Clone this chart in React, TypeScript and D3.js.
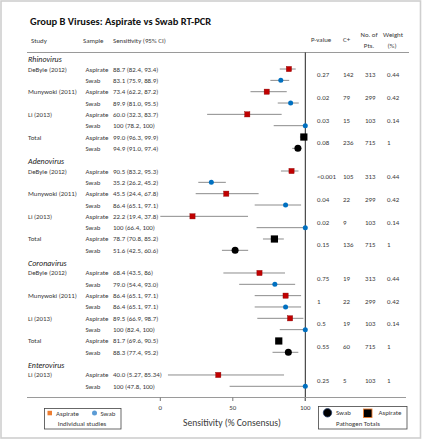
import React from "react";
import * as d3 from "d3";

const virusNames = ["Rhinovirus", "Adenovirus", "Coronavirus", "Enterovirus"];
const pairVirus = [0, 0, 0, 0, 1, 1, 1, 1, 2, 2, 2, 2, 3];
const pairStudy = [
  "DeByle (2012)", "Munywoki (2011)", "Li (2013)", "Total",
  "DeByle (2012)", "Munywoki (2011)", "Li (2013)", "Total",
  "DeByle (2012)", "Munywoki (2011)", "Li (2013)", "Total",
  "Li (2013)",
];
const pValue = ["0.27", "0.02", "0.03", "0.08", "<0.001", "0.04", "0.02", "0.15", "0.75", "1", "0.5", "0.55", "0.25"];
const cPositive = ["142", "79", "15", "236", "105", "22", "9", "136", "19", "22", "19", "60", "5"];
const numPts = ["313", "299", "103", "715", "313", "299", "103", "715", "313", "299", "103", "715", "103"];
const weight = ["0.44", "0.42", "0.14", "1", "0.44", "0.42", "0.14", "1", "0.44", "0.42", "0.14", "1", "1"];

const aspText = [
  "88.7 (82.4, 93.4)", "73.4 (62.2, 87.2)", "60.0 (32.3, 83.7)", "99.0 (96.3, 99.9)",
  "90.5 (83.2, 95.3)", "45.5 (24.4, 67.8)", "22.2 (19.4, 37.8)", "78.7 (70.8, 85.2)",
  "68.4 (43.5, 86)", "86.4 (65.1, 97.1)", "89.5 (66.9, 98.7)", "81.7 (69.6, 90.5)",
  "40.0 (5.27, 85.34)",
];
const swabText = [
  "83.1 (75.9, 88.9)", "89.9 (81.0, 95.5)", "100 (78.2, 100)", "94.9 (91.0, 97.4)",
  "35.2 (26.2, 45.2)", "86.4 (65.1, 97.1)", "100 (66.4, 100)", "51.6 (42.5, 60.6)",
  "79.0 (54.4, 93.0)", "86.4 (65.1, 97.1)", "100 (82.4, 100)", "88.3 (77.4, 95.2)",
  "100 (47.8, 100)",
];

// plotted values as drawn in the picture
const aspEst = [88.7, 73.4, 60.0, 99.0, 90.5, 45.5, 22.2, 78.7, 68.4, 86.4, 89.5, 81.7, 40.0];
const aspLo: (number | null)[] = [82.4, 62.2, 32.3, 96.3, 83.2, 24.4, 0, 70.8, 43.5, 65.1, 66.9, null, 5.27];
const aspHi: (number | null)[] = [93.4, 87.2, 83.7, 99.9, 95.3, 67.8, 60.5, 85.2, 86, 97.1, 98.7, null, 85.34];
const swabEst = [83.1, 89.9, 100, 94.9, 35.2, 86.4, 100, 51.6, 79.0, 86.4, 100, 88.3, 100];
const swabLo = [75.9, 81.0, 78.2, 91.0, 26.2, 65.1, 66.4, 42.5, 54.4, 65.1, 82.4, 77.4, 47.8];
const swabHi = [88.9, 95.5, 100, 97.4, 45.2, 97.1, 100, 60.6, 93.0, 97.1, 100, 95.2, 100];

const xTicks = [0, 50, 100];

const FONT = "Carlito, Calibri, Lato, sans-serif";
const TXT = "#3a3a3a";

export default function App() {
  const W = 422, H = 440;
  const x = d3.scaleLinear().domain([0, 100]).range([160.3, 305.3]);
  const slot = d3.scaleLinear().domain([0, 29]).range([57.7, 386.3]);

  // slot index of each pair's aspirate row
  const groupCounts: number[] = [0, 0, 0, 0];
  const pairSlot = pairVirus.map((v) => {
    const j = groupCounts[v]++;
    return v * 9 + 1 + 2 * j;
  });

  const RED = "#c00000", BLUE = "#0070c0", GREY = "#8c8c8c";
  const fs = 6.85;

  return (
    <svg width={W} height={H} style={{ position: "absolute", left: 0, top: 0, background: "#fff" }} fontFamily={FONT}>
      <rect x={1} y={1} width={419.5} height={437} fill="#fff" stroke="#cfcfcf" strokeWidth={1.6} />
      <text x={30} y={24.5} fontSize={10.5} fontWeight="bold" fill="#111">Group B Viruses: Aspirate vs Swab RT-PCR</text>

      {/* headers */}
      <g fontSize={fs} fill={TXT}>
        <text x={31} y={42.5}>Study</text>
        <text x={83} y={42.5}>Sample</text>
        <text x={113} y={42.5}>Sensitivity (95% CI)</text>
        <text x={311} y={42}>P-value</text>
        <text x={343} y={42}>C+</text>
        <text x={369} y={36.5} textAnchor="middle">No. of</text>
        <text x={369} y={47.5} textAnchor="middle">Pts.</text>
        <text x={393} y={36.5} textAnchor="middle">Weight</text>
        <text x={392} y={47.5} textAnchor="middle">(%)</text>
      </g>
      <line x1={27} x2={409} y1={52.5} y2={52.5} stroke="#9a9a9a" strokeWidth={1} />

      {/* group labels */}
      {virusNames.map((v, i) => (
        <text key={v} x={28} y={slot(i * 9) + 4.5} fontSize={8} fontStyle="italic" fill="#222">{v}</text>
      ))}

      {/* reference line at 100 */}
      <line x1={x(100)} x2={x(100)} y1={52.5} y2={401} stroke="#222" strokeWidth={1} />

      {pairStudy.map((s, k) => {
        const ya = slot(pairSlot[k]);
        const ys = slot(pairSlot[k] + 1);
        const ym = (ya + ys) / 2;
        const isTotal = s === "Total";
        const lo = aspLo[k], hi = aspHi[k];
        return (
          <g key={k}>
            <g fontSize={fs} fill={TXT} dominantBaseline="central">
              <text x={28} y={ya}>{s}</text>
              <text x={85.5} y={ya}>Aspirate</text>
              <text x={85.5} y={ys}>Swab</text>
              <text x={113} y={ya}>{aspText[k]}</text>
              <text x={113} y={ys}>{swabText[k]}</text>
              <text x={317} y={ym}>{pValue[k]}</text>
              <text x={343} y={ym}>{cPositive[k]}</text>
              <text x={365} y={ym}>{numPts[k]}</text>
              <text x={387} y={ym}>{weight[k]}</text>
            </g>
            {lo !== null && hi !== null && (
              <line x1={x(lo)} x2={x(hi)} y1={ya} y2={ya} stroke={GREY} strokeWidth={1} />
            )}
            <line x1={x(swabLo[k])} x2={x(swabHi[k])} y1={ys} y2={ys} stroke={GREY} strokeWidth={1} />
            {isTotal ? (
              <>
                <rect x={x(aspEst[k]) - 3.6} y={ya - 3.6} width={7.2} height={7.2} fill="#000" />
                <circle cx={x(swabEst[k])} cy={ys} r={3.5} fill="#000" />
              </>
            ) : (
              <>
                <rect x={x(aspEst[k]) - 2.6} y={ya - 2.6} width={5.2} height={5.2} fill={RED} stroke="#8a0000" strokeWidth={0.4} />
                <circle cx={x(swabEst[k])} cy={ys} r={2.5} fill={BLUE} />
              </>
            )}
          </g>
        );
      })}

      {/* x axis */}
      <line x1={27} x2={406} y1={397.5} y2={397.5} stroke="#9a9a9a" strokeWidth={1} />
      {xTicks.map((t) => (
        <g key={t}>
          <line x1={x(t)} x2={x(t)} y1={397.5} y2={401} stroke="#777" strokeWidth={1} />
          <text x={x(t)} y={409.5} fontSize={fs} fill={TXT} textAnchor="middle">{t}</text>
        </g>
      ))}
      <text x={232} y={425.5} fontSize={9.6} fill={TXT} textAnchor="middle">Sensitivity (% Consensus)</text>

      {/* legend: individual studies */}
      <rect x={44.5} y={408.5} width={76.5} height={20.5} fill="#fff" stroke="#444" strokeWidth={0.8} />
      <rect x={47.5} y={410.8} width={4.5} height={4.5} fill="#ed7d31" />
      <text x={56} y={415.6} fontSize={fs} fill={TXT}>Aspirate</text>
      <circle cx={94.5} cy={413} r={2.5} fill="#5b9bd5" />
      <text x={100.5} y={415.6} fontSize={fs} fill={TXT}>Swab</text>
      <text x={82} y={426.2} fontSize={fs} fill={TXT} textAnchor="middle">Individual studies</text>

      {/* legend: pathogen totals */}
      <rect x={318.5} y={406.5} width={88.5} height={22.5} fill="#fff" stroke="#444" strokeWidth={0.8} />
      <circle cx={327.5} cy={412.8} r={4.2} fill="#000" stroke="#1f3864" strokeWidth={0.8} />
      <text x={336} y={415.3} fontSize={fs} fill={TXT}>Swab</text>
      <rect x={363.5} y={409} width={8.5} height={8.5} fill="#000" stroke="#ed7d31" strokeWidth={0.9} />
      <text x={378.5} y={415.3} fontSize={fs} fill={TXT}>Aspirate</text>
      <text x={336} y={426} fontSize={fs} fill={TXT}>Pathogen Totals</text>
    </svg>
  );
}
